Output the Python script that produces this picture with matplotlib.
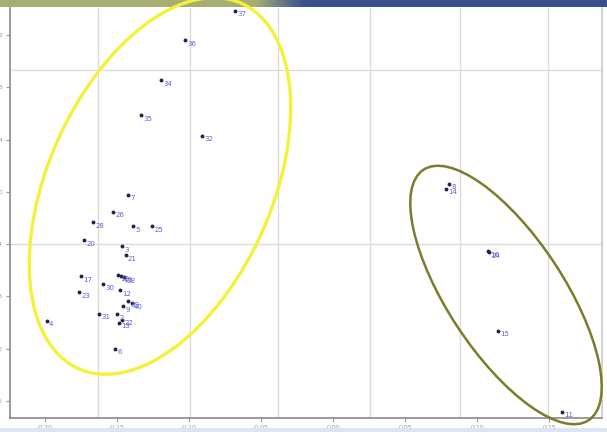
import numpy as np
import matplotlib
matplotlib.use("Agg")
import matplotlib.pyplot as plt
from matplotlib.patches import Ellipse
from matplotlib.transforms import IdentityTransform

# sample labels and coordinates
labels = ["37", "36", "34", "35", "32", "7", "26", "28", "5", "25", "20", "3", "21",
          "17", "18", "19", "38", "30", "23", "12", "39", "40", "31", "9", "2", "13",
          "22", "4", "6", "8", "14", "16", "24", "15", "11"]
xs = [-0.0681, -0.1028, -0.1195, -0.1333, -0.0910, -0.1424, -0.1528, -0.1667, -0.1389,
      -0.1257, -0.1729, -0.1465, -0.1438, -0.1750, -0.1493, -0.1472, -0.1451, -0.1597,
      -0.1764, -0.1479, -0.1424, -0.1396, -0.1625, -0.1458, -0.1500, -0.1486, -0.1465,
      -0.1986, -0.1514, 0.0806, 0.0785, 0.1076, 0.1083, 0.1146, 0.1590]
ys = [0.1385, 0.1162, 0.0854, 0.0585, 0.0431, -0.0023, -0.0154, -0.0231, -0.0262,
      -0.0262, -0.0369, -0.0415, -0.0485, -0.0646, -0.0638, -0.0646, -0.0654, -0.0708,
      -0.0769, -0.0754, -0.0838, -0.0854, -0.0931, -0.0877, -0.0938, -0.1000, -0.0977,
      -0.0985, -0.1200, 0.0062, 0.0023, -0.0454, -0.0462, -0.1062, -0.1685]

xticks = [-0.20, -0.15, -0.10, -0.05, 0.00, 0.05, 0.10, 0.15]
yticks = [0.12, 0.08, 0.04, 0.00, -0.04, -0.08, -0.12, -0.16]
xgrid = [-0.1632, -0.0993, -0.0382, 0.0257, 0.0882, 0.1493]
ygrid = [0.0931, -0.04]

W, H = 607, 432
fig = plt.figure(figsize=(W / 100, H / 100), dpi=100)
ax = fig.add_axes([10 / W, 14 / H, 592 / W, 410 / H])

ax.set_xlim(-0.2243, 0.1868)
ax.set_ylim(-0.1731, 0.1408)

for g in xgrid:
    ax.axvline(g, color="#dcdcdc", lw=1, zorder=0)
for g in ygrid:
    ax.axhline(g, color="#dcdcdc", lw=1, zorder=0)

ax.plot(xs, ys, "o", ms=1.8, color="#23234a", zorder=3)
for lab, x, y in zip(labels, xs, ys):
    ax.annotate(lab, (x, y), xytext=(1.5, -2.5), textcoords="offset points",
                fontsize=5, color="#6060d8", ha="left", va="center", zorder=3)

ax.set_xticks(xticks)
ax.set_xticklabels(["%.2f" % v for v in xticks])
ax.set_yticks(yticks)
ax.set_yticklabels(["%.2f" % v for v in yticks])
ax.tick_params(labelsize=4.5, colors="#999999", length=3, width=0.8, pad=2)

ax.spines["top"].set_visible(False)
ax.spines["left"].set_color("#8a8a8a")
ax.spines["bottom"].set_color("#8a8a8a")
ax.spines["right"].set_color("#c8c8c8")
for s in ["left", "bottom", "right"]:
    ax.spines[s].set_linewidth(1.2)

# hand drawn ellipses (screen pixel units, y measured from the bottom)
e1 = Ellipse((160, H - 186), 2 * 200, 2 * 112, angle=66, fill=False,
             ec="#f2f23c", lw=2.4, transform=IdentityTransform(), clip_on=False, zorder=4)
e2 = Ellipse((506, H - 295), 2 * 150, 2 * 58, angle=-56.6, fill=False,
             ec="#7c7c2c", lw=1.8, transform=IdentityTransform(), clip_on=False, zorder=4)
fig.add_artist(e1)
fig.add_artist(e2)

# top banner and bottom strip
band = fig.add_axes([0, 1 - 7 / H, 1, 7 / H])
grad = np.linspace(0, 1, 300)
c0 = np.array([0.66, 0.68, 0.45])
c1 = np.array([0.23, 0.31, 0.56])
w = np.clip((grad - 0.42) / 0.08, 0, 1)[:, None]
band.imshow((c0 * (1 - w) + c1 * w)[None, :, :], aspect="auto")
band.axis("off")
strip = fig.add_axes([0, 0, 1, 4 / H])
strip.set_facecolor("#dde5f2")
strip.set_xticks([])
strip.set_yticks([])
for s in strip.spines.values():
    s.set_visible(False)

fig.savefig("out.png", dpi=100)
